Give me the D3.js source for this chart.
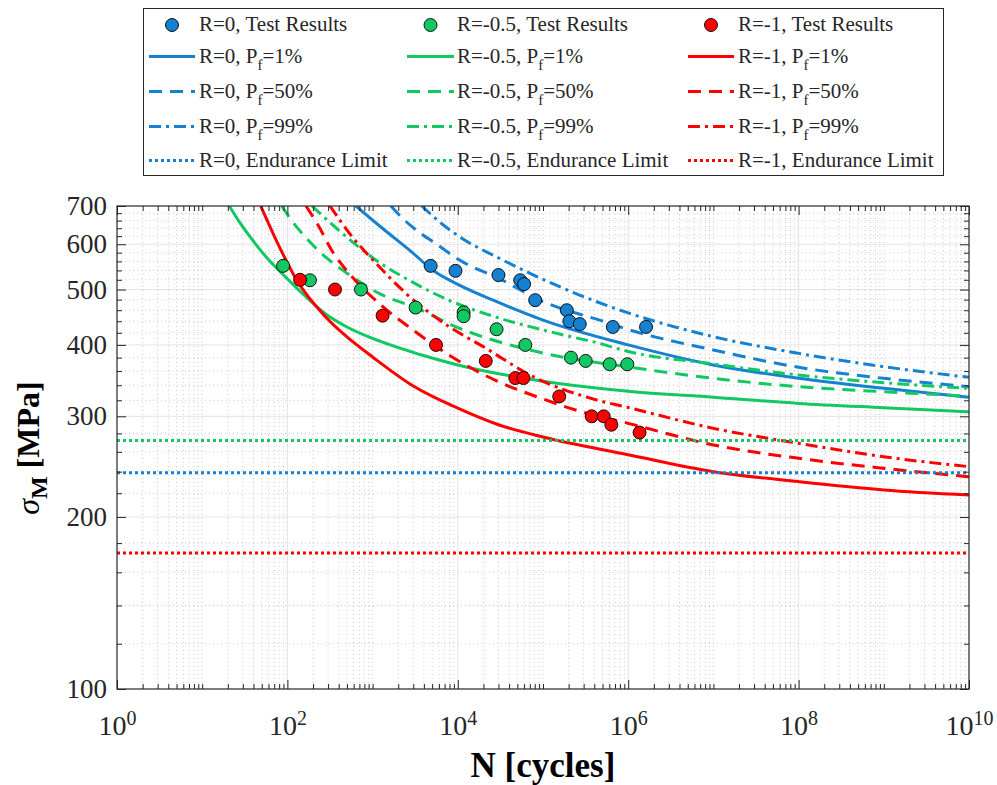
<!DOCTYPE html>
<html>
<head>
<meta charset="utf-8">
<script src="https://cdn.jsdelivr.net/npm/d3@7"></script>
<style>
  body { margin: 0; background: #fff; }
  svg { display: block; font-family: "Liberation Serif", "Times New Roman", serif; }
</style>
</head>
<body>
<div id="chart"></div>
<script>
'use strict';

// ---- data (N [cycles], sigma_M [MPa]) ----
var seriesNames = ['R=0', 'R=-0.5', 'R=-1'];

var testR0 = [[4800, 550], [9400, 539], [30000, 530], [54000, 519], [60000, 511], [81000, 479],
  [190000, 460], [204000, 440], [270000, 435], [660000, 430], [1620000, 430]];
var testR05 = [[89, 550], [184, 519], [730, 500], [3200, 465], [11700, 456], [11700, 449],
  [28500, 426], [62000, 400], [213000, 380], [317000, 375], [606000, 370], [976000, 370]];
var testR1 = [[141, 520], [362, 500], [1310, 450], [5550, 400], [21300, 375], [47300, 350],
  [59000, 350], [155000, 325], [373000, 300], [516000, 300], [634000, 290], [1360000, 281]];

var r0P1 = [[638, 700], [1335, 638], [2748, 585], [5400, 537], [1e4, 510.6], [2.86e4, 476],
  [1e5, 442], [1e6, 400], [1e7, 369], [1e8, 349.6], [1e9, 335.8], [1e10, 324]];
var r0P50 = [[1644, 700], [2003, 677.7], [6761, 588.8], [1e4, 565.5], [3.13e4, 521.7], [1e5, 476.4],
  [5.34e5, 439], [1e6, 425.6], [1e7, 391.9], [1e8, 365.5], [1e9, 349.6], [1e10, 338]];
var r0P99 = [[3769, 700], [6761, 648.5], [1.15e4, 613], [2.86e4, 570], [7.03e4, 533.8], [1.73e5, 502.5],
  [4.27e5, 476], [1e6, 455], [1e7, 413.5], [1e8, 386.6], [1e9, 366.4], [1e10, 351]];

var r05P1 = [[20.8, 700], [27.8, 653.8], [41.7, 602.3], [62.5, 560.2], [88.8, 531.3], [156.6, 489.1],
  [276, 454], [500, 430], [1000, 410.5], [3600, 384.8], [1e4, 368.9], [1e5, 345.6], [1e6, 332],
  [1e7, 324], [1e8, 316], [1e9, 310.6], [1e10, 305.6]];
var r05P50 = [[85.7, 700], [107.3, 666], [179.3, 608], [284, 569], [453, 539.5], [1278, 489.7],
  [3206, 464.7], [1e4, 429], [1e5, 387], [1e6, 366], [1e7, 349.6], [1e8, 338], [1e9, 331.2], [1e10, 325.5]];
var r05P99 = [[194, 700], [414, 632], [711, 591], [1222, 556.5], [2399, 523.8], [8095, 478],
  [2.86e4, 447], [7.03e4, 430.5], [1.73e5, 416.4], [4.27e5, 403.6], [1e6, 389.5], [1e7, 370.4],
  [1e8, 354.3], [1e9, 343.5], [1e10, 335.8]];

var r1P1 = [[48.6, 700], [77.6, 600.5], [128.5, 519.5], [276, 449], [500, 413], [1000, 381], [3000, 339],
  [1e4, 310], [3e4, 290], [1e5, 276], [1e6, 257], [1e7, 240], [1e8, 230.6], [1e9, 223], [1e10, 218.5]];
var r1P50 = [[165, 700], [228.6, 648.5], [343, 580.5], [528, 533.8], [1278, 468.5], [2979, 424.8],
  [9791, 376.3], [2.73e4, 347.2], [1e5, 321.7], [2.79e5, 305.7], [1e6, 291.6], [1e7, 267.3],
  [1e8, 253.3], [1e9, 243.3], [1e10, 235.2]];
var r1P99 = [[316, 700], [543, 625.4], [1117, 554], [2513, 491], [8095, 429.5], [1.99e4, 397.2],
  [7.69e4, 351.9], [4.27e5, 320.4], [1e6, 310.8], [1e7, 285.8], [1e8, 269.1], [1e9, 254.9], [1e10, 244.9]];

var enduranceLimits = [239, 272.2, 173];

var yTickValues = [100, 200, 300, 400, 500, 600, 700];
var xTickPowers = [0, 2, 4, 6, 8, 10];

// ---- layout ----
var width = 997, height = 785;
var margin = {top: 206, right: 28, bottom: 96, left: 117};
var chartW = width - margin.left - margin.right,
    chartH = height - margin.top - margin.bottom;

var colors = ['#1680d1', '#12c862', '#ff0000'];
var axisColor = '#262626';
var dash = {solid: null, dashed: '13,8', dashdot: '12,5,3,5', dotted: '3,3'};

var tests = [testR0, testR05, testR1];
var curves = [
  [r0P1, r0P50, r0P99],
  [r05P1, r05P50, r05P99],
  [r1P1, r1P50, r1P99]
];

var xScale = d3.scaleLog().domain([1, 1e10]).range([0, chartW]);
var yScale = d3.scaleLog().domain([100, 700]).range([chartH, 0]);

var svg = d3.select('#chart').append('svg')
    .attr('width', width)
    .attr('height', height);

svg.append('defs').append('clipPath').attr('id', 'plotClip')
  .append('rect').attr('width', chartW).attr('height', chartH);

var inner = svg.append('g').attr('transform', translation(margin.left, margin.top));

// Tick positions: every 2..9 x 10^n on x, every 20 MPa on y.
var xMinor = [];
d3.range(0, 10).forEach(function(p) {
  d3.range(1, 10).forEach(function(k) {
    var v = k * Math.pow(10, p);
    if (!(k === 1 && p % 2 === 0)) xMinor.push(v);
  });
});
var xMajor = xTickPowers.map(function(p) { return Math.pow(10, p); });
var yMinor = d3.range(120, 700, 20).filter(function(v) { return v % 100 !== 0; });

// ---- grid ----
var grid = inner.append('g');
grid.selectAll('.gx-minor').data(xMinor).enter().append('line')
  .attr('x1', xScale).attr('x2', xScale).attr('y1', 0).attr('y2', chartH)
  .attr('stroke', '#bdbdbd').attr('stroke-width', 0.8).attr('stroke-dasharray', '1,3');
grid.selectAll('.gy-minor').data(yMinor).enter().append('line')
  .attr('y1', yScale).attr('y2', yScale).attr('x1', 0).attr('x2', chartW)
  .attr('stroke', '#bdbdbd').attr('stroke-width', 0.8).attr('stroke-dasharray', '1,3');
grid.selectAll('.gx-major').data(xMajor.slice(1, -1)).enter().append('line')
  .attr('x1', xScale).attr('x2', xScale).attr('y1', 0).attr('y2', chartH)
  .attr('stroke', '#e3e3e3').attr('stroke-width', 1);
grid.selectAll('.gy-major').data(yTickValues.slice(1, -1)).enter().append('line')
  .attr('y1', yScale).attr('y2', yScale).attr('x1', 0).attr('x2', chartW)
  .attr('stroke', '#e3e3e3').attr('stroke-width', 1);

// ---- curves ----
var line = d3.line()
  .x(function(d) { return xScale(d[0]); })
  .y(function(d) { return yScale(d[1]); })
  .curve(d3.curveMonotoneX);

var plot = inner.append('g').attr('clip-path', 'url(#plotClip)');
var styles = [dash.solid, dash.dashed, dash.dashdot];

curves.forEach(function(set, i) {
  set.forEach(function(pts, j) {
    plot.append('path')
      .datum(pts)
      .attr('d', line)
      .attr('fill', 'none')
      .attr('stroke', colors[i])
      .attr('stroke-width', 3)
      .attr('stroke-dasharray', styles[j]);
  });
});

// Endurance limits
plot.selectAll('.endurance').data(enduranceLimits).enter().append('line')
  .attr('x1', 0).attr('x2', chartW)
  .attr('y1', function(d) { return yScale(d); })
  .attr('y2', function(d) { return yScale(d); })
  .attr('stroke', function(d, i) { return colors[i]; })
  .attr('stroke-width', 3)
  .attr('stroke-dasharray', dash.dotted);

// Test results
tests.forEach(function(pts, i) {
  plot.selectAll(null).data(pts).enter().append('circle')
    .attr('cx', function(d) { return xScale(d[0]); })
    .attr('cy', function(d) { return yScale(d[1]); })
    .attr('r', 6.5)
    .attr('fill', colors[i])
    .attr('stroke', '#000')
    .attr('stroke-width', 0.9);
});

// ---- axes (ticks pointing inward, on all four sides) ----
function tickAxis(axis, values, size, x, y) {
  var g = inner.append('g').attr('transform', translation(x, y))
    .call(axis.tickValues(values).tickSize(size).tickSizeOuter(0).tickFormat(''));
  g.select('.domain').remove();
  g.selectAll('line').attr('stroke', axisColor);
  return g;
}
tickAxis(d3.axisBottom(xScale), xMinor, -5, 0, chartH);
tickAxis(d3.axisBottom(xScale), xMajor, -9, 0, chartH);
tickAxis(d3.axisTop(xScale), xMinor, -5, 0, 0);
tickAxis(d3.axisTop(xScale), xMajor, -9, 0, 0);
tickAxis(d3.axisLeft(yScale), yMinor, -5, 0, 0);
tickAxis(d3.axisLeft(yScale), yTickValues, -9, 0, 0);
tickAxis(d3.axisRight(yScale), yMinor, -5, chartW, 0);
tickAxis(d3.axisRight(yScale), yTickValues, -9, chartW, 0);

inner.append('rect')
  .attr('width', chartW).attr('height', chartH)
  .attr('fill', 'none').attr('stroke', axisColor).attr('stroke-width', 1.2);

// Tick labels
var yLabels = inner.append('g')
  .call(d3.axisLeft(yScale).tickValues(yTickValues).tickSize(0).tickPadding(10)
    .tickFormat(d3.format('d')));
yLabels.select('.domain').remove();
yLabels.selectAll('text')
  .attr('font-family', 'Liberation Serif, serif')
  .attr('font-size', 27)
  .attr('fill', axisColor);

var xLabels = inner.append('g').attr('transform', translation(0, chartH))
  .call(d3.axisBottom(xScale).tickValues(xMajor).tickSize(0).tickFormat(''));
xLabels.select('.domain').remove();
xLabels.selectAll('text')
  .attr('y', 46).attr('dy', null)
  .attr('font-family', 'Liberation Serif, serif')
  .attr('font-size', 28)
  .attr('fill', axisColor)
  .each(function(d) {
    var t = d3.select(this);
    t.append('tspan').text('10');
    t.append('tspan').attr('dy', -10).attr('font-size', 20)
      .text(Math.round(Math.log10(d)));
  });

// Axis titles
svg.append('text')
  .attr('x', margin.left + chartW / 2)
  .attr('y', 777)
  .attr('text-anchor', 'middle')
  .attr('font-weight', 'bold')
  .attr('font-size', 35)
  .attr('fill', '#000')
  .text('N [cycles]');

var yTitle = svg.append('text')
  .attr('transform', translation(39, 448) + 'rotate(-90)')
  .attr('text-anchor', 'middle')
  .attr('font-weight', 'bold')
  .attr('font-size', 32)
  .attr('fill', '#000');
yTitle.append('tspan').attr('font-style', 'italic').attr('font-weight', 'normal').text('σ');
yTitle.append('tspan').attr('dy', 8).attr('font-size', 24).text('M');
yTitle.append('tspan').attr('dy', -8).text(' [MPa]');

// ---- legend ----
var legend = svg.append('g');
legend.append('rect')
  .attr('x', 143.5).attr('y', 8.5).attr('width', 800).attr('height', 167)
  .attr('fill', '#fff').attr('stroke', axisColor).attr('stroke-width', 1);

var legendCols = [
  {x1: 149, x2: 195, text: 199},
  {x1: 407, x2: 454, text: 457},
  {x1: 688, x2: 734, text: 738}
];
var legendRows = [
  {y: 25, kind: 'marker', label: ', Test Results'},
  {y: 56.5, kind: 'line', style: dash.solid, pf: '1%'},
  {y: 91.5, kind: 'line', style: dash.dashed, pf: '50%'},
  {y: 126.5, kind: 'line', style: dash.dashdot, pf: '99%'},
  {y: 160.5, kind: 'line', style: dash.dotted, label: ', Endurance Limit'}
];

legendCols.forEach(function(col, i) {
  legendRows.forEach(function(row) {
    if (row.kind === 'marker') {
      legend.append('circle')
        .attr('cx', (col.x1 + col.x2) / 2).attr('cy', row.y).attr('r', 6.5)
        .attr('fill', colors[i]).attr('stroke', '#000').attr('stroke-width', 0.9);
    } else {
      legend.append('line')
        .attr('x1', col.x1).attr('x2', col.x2).attr('y1', row.y).attr('y2', row.y)
        .attr('stroke', colors[i]).attr('stroke-width', 3)
        .attr('stroke-dasharray', row.style);
    }
    var t = legend.append('text')
      .attr('x', col.text).attr('y', row.y + 6)
      .attr('font-size', 21).attr('fill', axisColor);
    if (row.pf) {
      t.append('tspan').text(seriesNames[i] + ', P');
      t.append('tspan').attr('dy', 7).attr('font-size', 15).text('f');
      t.append('tspan').attr('dy', -7).text('=' + row.pf);
    } else {
      t.text(seriesNames[i] + row.label);
    }
  });
});

function translation(x, y) {
  return 'translate(' + x + ',' + y + ')';
}
</script>
</body>
</html>
